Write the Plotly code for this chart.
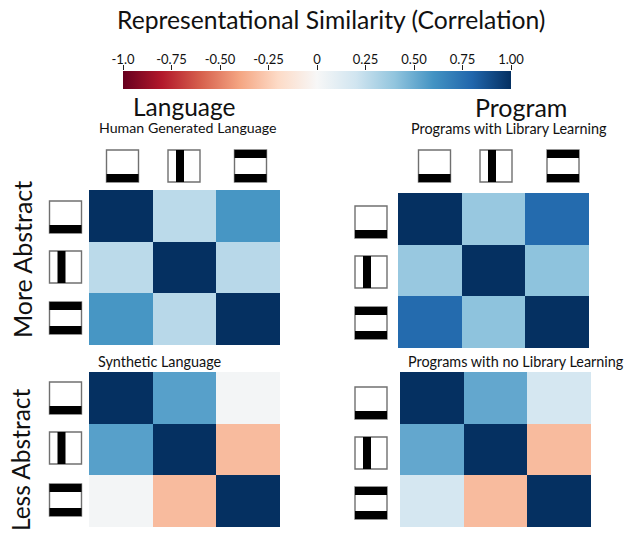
import plotly.graph_objects as go

W, H = 624, 533
FONT = "Lato"

# ---- data ----
human_language = [[1.0, 0.27, 0.59], [0.27, 1.0, 0.28], [0.59, 0.28, 1.0]]
library_programs = [[1.0, 0.38, 0.78], [0.38, 1.0, 0.41], [0.78, 0.41, 1.0]]
synthetic_language = [[1.0, 0.55, 0.02], [0.55, 1.0, -0.32], [0.02, -0.32, 1.0]]
no_library_programs = [[1.0, 0.52, 0.18], [0.52, 1.0, -0.32], [0.18, -0.32, 1.0]]
stimuli = ["bottom bar", "vertical bar", "two bars"]
tick_values = [-1, -0.75, -0.5, -0.25, 0, 0.25, 0.5, 0.75, 1]
tick_labels = ["-1.0", "-0.75", "-0.50", "-0.25", "0", "0.25", "0.50", "0.75", "1.00"]
rdbu = ["#67001f", "#b2182b", "#d6604d", "#f4a582", "#fddbc7", "#f7f7f7",
        "#d1e5f0", "#92c5de", "#4393c3", "#2166ac", "#053061"]

px = lambda x: x / W
py = lambda y: 1 - y / H

panels = [
    (human_language, (89, 280), (190, 345)),
    (library_programs, (398, 589), (193, 348)),
    (synthetic_language, (89, 280), (372, 527)),
    (no_library_programs, (400, 591), (372, 527)),
]

fig = go.Figure()
layout = {}
for i, (z, xr, yr) in enumerate(panels, start=1):
    xname, yname = f"xaxis{i}", f"yaxis{i}"
    fig.add_trace(go.Heatmap(z=z, x=stimuli, y=stimuli, coloraxis="coloraxis",
                             xaxis=f"x{i}", yaxis=f"y{i}", xgap=0, ygap=0))
    layout[xname] = dict(domain=[px(xr[0]), px(xr[1])], showticklabels=False, ticks="",
                         showgrid=False, zeroline=False, anchor=f"y{i}")
    layout[yname] = dict(domain=[py(yr[1]), py(yr[0])], showticklabels=False, ticks="",
                         showgrid=False, zeroline=False, autorange="reversed", anchor=f"x{i}")

# tick axis drawn along the top edge of the colour bar
fig.add_trace(go.Scatter(x=tick_values, y=[0] * len(tick_values), mode="markers",
                         marker=dict(opacity=0), hoverinfo="skip", xaxis="x5", yaxis="y5"))
layout["xaxis5"] = dict(domain=[px(123), px(511)], range=[-1, 1], side="top", anchor="y5",
                        tickmode="array", tickvals=tick_values, ticktext=tick_labels,
                        ticks="outside", ticklen=5, tickwidth=1, tickcolor="#222222",
                        ticklabelstandoff=-4,
                        showgrid=False, zeroline=False, showline=False,
                        tickangle=0, tickfont=dict(family=FONT, size=13, color="#111111"))
layout["yaxis5"] = dict(domain=[py(89), py(71)], visible=False, anchor="x5", fixedrange=True)


def icon_shapes(kind, x0, y0, size=32):
    out = []
    def rect(a, b, c, d, **kw):
        out.append(dict(type="rect", xref="paper", yref="paper",
                        x0=px(x0 + a * size), x1=px(x0 + b * size),
                        y0=py(y0 + c * size), y1=py(y0 + d * size), **kw))
    rect(0, 1, 0, 1, fillcolor="white", line=dict(color="#707070", width=1.4))
    bars = {"bottom": [(0, 1, .75, 1)],
            "vertical": [(.25, .5, 0, 1)],
            "two": [(0, 1, 0, .25), (0, 1, .75, 1)]}[kind]
    for b in bars:
        rect(*b, fillcolor="black", line=dict(width=0))
    return out


kinds = ["bottom", "vertical", "two"]
shapes = []
for kind, x0 in zip(kinds, [106.5, 168, 234.5]):
    shapes += icon_shapes(kind, x0, 150)
for kind, x0 in zip(kinds, [418.5, 480, 547]):
    shapes += icon_shapes(kind, x0, 150)
for kind, y0 in zip(kinds, [201, 251, 302]):
    shapes += icon_shapes(kind, 49.5, y0)
for kind, y0 in zip(kinds, [206, 256, 307]):
    shapes += icon_shapes(kind, 355, y0)
for kind, y0 in zip(kinds, [382, 432, 484]):
    shapes += icon_shapes(kind, 49.5, y0)
for kind, y0 in zip(kinds, [387, 437, 487]):
    shapes += icon_shapes(kind, 355, y0)


def label(text, x, y, size, angle=0):
    return dict(text=text, xref="paper", yref="paper", x=px(x), y=py(y), xanchor="center",
                yanchor="middle", showarrow=False, textangle=angle,
                font=dict(family=FONT, size=size, color="#111111"))


annotations = [
    label("Representational Similarity (Correlation)", 331, 20, 24.7),
    label("Language", 184, 106, 24.5),
    label("Program", 521, 107, 25),
    label("Human Generated Language", 187.5, 127, 14.2),
    label("Programs with Library Learning", 508.5, 128, 14.4),
    label("Synthetic Language", 160, 361, 14.4),
    label("Programs with no Library Learning", 516, 361, 14.4),
    label("More Abstract", 22, 260, 25, -90),
    label("Less Abstract", 20, 460, 24.5, -90),
]

fig.update_layout(
    width=W, height=H, margin=dict(l=0, r=0, t=0, b=0, autoexpand=False),
    paper_bgcolor="white", plot_bgcolor="white", showlegend=False,
    shapes=shapes, annotations=annotations,
    coloraxis=dict(
        cmin=-1, cmax=1,
        colorscale=[[i / 10, c] for i, c in enumerate(rdbu)],
        colorbar=dict(orientation="h", x=px(123), xanchor="left", y=py(71), yanchor="top",
                      len=388, lenmode="pixels", thickness=18, thicknessmode="pixels",
                      xpad=0, ypad=0, outlinewidth=0, ticks="", showticklabels=False),
    ),
    **layout,
)
fig.write_html("out.html", config={"displayModeBar": False},
               post_script="document.body.style.margin='0';")
